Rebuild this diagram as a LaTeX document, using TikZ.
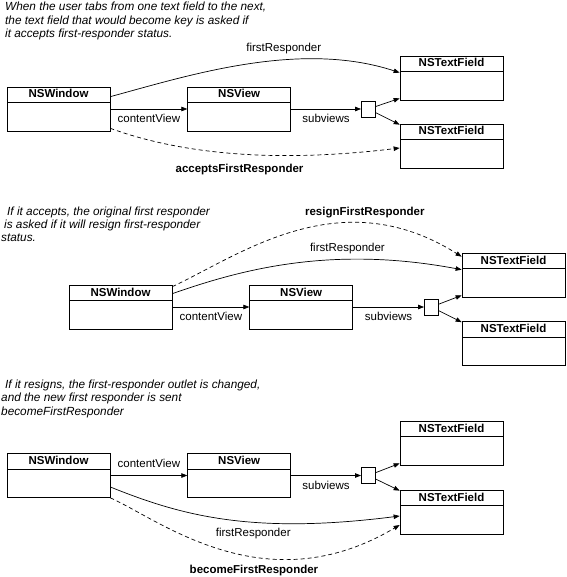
\documentclass[tikz,border=0pt]{standalone}
\usepackage{fontspec}
\setmainfont{Liberation Sans}
\usetikzlibrary{arrows.meta, positioning}

\tikzset{
  objbox/.style={draw, line width=0.7pt, minimum width=103pt, inner sep=0pt,
    font=\fontsize{11.5}{12.5}\selectfont\bfseries, text height=11pt, text depth=33pt,
    path picture={\draw[line width=0.7pt] ([yshift=-15.5pt]path picture bounding box.north west) -- ([yshift=-15.5pt]path picture bounding box.north east);}},
  junction/.style={draw, line width=0.7pt, minimum width=14pt, minimum height=16pt, inner sep=0pt},
  arr/.style={-{Triangle[length=6pt,width=4.5pt]}, line width=0.7pt},
  dasharr/.style={arr, dash pattern=on 4pt off 3pt},
  note/.style={font=\fontsize{11.8}{13.2}\selectfont\itshape, align=left, anchor=north west, inner sep=0pt}
}

\begin{document}
\begin{tikzpicture}[x=1pt, y=-1pt, font=\fontsize{11.5}{12.5}\selectfont]
    \useasboundingbox (0,0) rectangle (566,577);

    % tab to the next field
    \node[note] (note1) at (5,2.2) {When the user tabs from one text field to the next,\\the text field that would become key is asked if\\it accepts first-responder status.};
    \node[objbox] (win1) at (58.5,109) {NSWindow};
    \node[objbox] (view1) [right=77pt of win1] {NSView};
    \node[junction] (sq1) [right=70pt of view1] {};
    \node[objbox] (tf1a) at (451.5,78) {NSTextField};
    \node[objbox] (tf1b) at (451.5,146) {NSTextField};

    \draw[arr] (win1) -- node[below=1.5pt] (cv1) {contentView} (view1);
    \draw[arr] (view1) -- node[below=1.5pt] (sv1) {subviews} (sq1);
    \draw[arr] (sq1) -- ([yshift=2pt]tf1a.south west);
    \draw[arr] (sq1) -- ([yshift=-1pt]tf1b.north west);
    \draw[arr] ([yshift=-10pt]win1.north east) .. controls (190,75) and (300,40) .. node[pos=.62, above=3pt] (fr1) {firstResponder} ([yshift=-17pt]tf1a.north west);
    \draw[dasharr] ([yshift=3pt]win1.south east) .. controls (170,150) and (260,165) .. node[pos=.55, below=7pt] (afr1) {\bfseries acceptsFirstResponder} ([yshift=-2pt]tf1b.west);

    % resign the old one
    \node[note] (note2) at (1,206.6) {\hspace*{6pt}If it accepts, the original first responder\\\hspace*{3pt}is asked if it will resign first-responder\\status.};
    \node[objbox] (win2) at (120.5,307) {NSWindow};
    \node[objbox] (view2) [right=77pt of win2] {NSView};
    \node[junction] (sq2) [right=71pt of view2] {};
    \node[objbox] (tf2a) at (513.5,275) {NSTextField};
    \node[objbox] (tf2b) at (513.5,343.5) {NSTextField};

    \draw[arr] (win2) -- node[below=1.5pt] (cv2) {contentView} (view2);
    \draw[arr] (view2) -- node[below=1.5pt] (sv2) {subviews} (sq2);
    \draw[arr] (sq2) -- ([yshift=2pt]tf2a.south west);
    \draw[arr] (sq2) -- ([yshift=-1pt]tf2b.north west);
    \draw[arr] ([yshift=-9pt]win2.north east) .. controls (240,270) and (330,245) .. node[pos=.68, above=2pt] (fr2) {firstResponder} ([yshift=-17pt]tf2a.north west);
    \draw[dasharr] ([yshift=-2pt]win2.north east) .. controls (240,255) and (340,180) .. node[pos=.72, above=2pt] (rfr2) {\bfseries resignFirstResponder} ([yshift=-4pt]tf2a.north west);

    % outlet changed
    \node[note] (note3) at (1,380) {\hspace*{4pt}If it resigns, the first-responder outlet is changed,\\and the new first responder is sent\\becomeFirstResponder};
    \node[objbox] (win3) at (58.5,475.5) {NSWindow};
    \node[objbox] (view3) [right=77pt of win3] {NSView};
    \node[junction] (sq3) [right=70pt of view3] {};
    \node[objbox] (tf3a) at (451.5,443) {NSTextField};
    \node[objbox] (tf3b) at (451.5,512) {NSTextField};

    \draw[arr] (win3) -- node[above=4pt] (cv3) {contentView} (view3);
    \draw[arr] (view3) -- node[below=1.5pt] (sv3) {subviews} (sq3);
    \draw[arr] (sq3) -- ([yshift=2pt]tf3a.south west);
    \draw[arr] (sq3) -- ([yshift=-1pt]tf3b.north west);
    \draw[arr] ([yshift=-11.5pt]win3.east) .. controls (180,515) and (250,535) .. node[pos=.6, below=2pt] (fr3) {firstResponder} ([yshift=-4pt]tf3b.west);
    \draw[dasharr] (win3.south east) .. controls (160,520) and (265,605) .. node[pos=.6, below=5pt] (bfr3) {\bfseries becomeFirstResponder} ([yshift=-13pt]tf3b.west);
\end{tikzpicture}
\end{document}
